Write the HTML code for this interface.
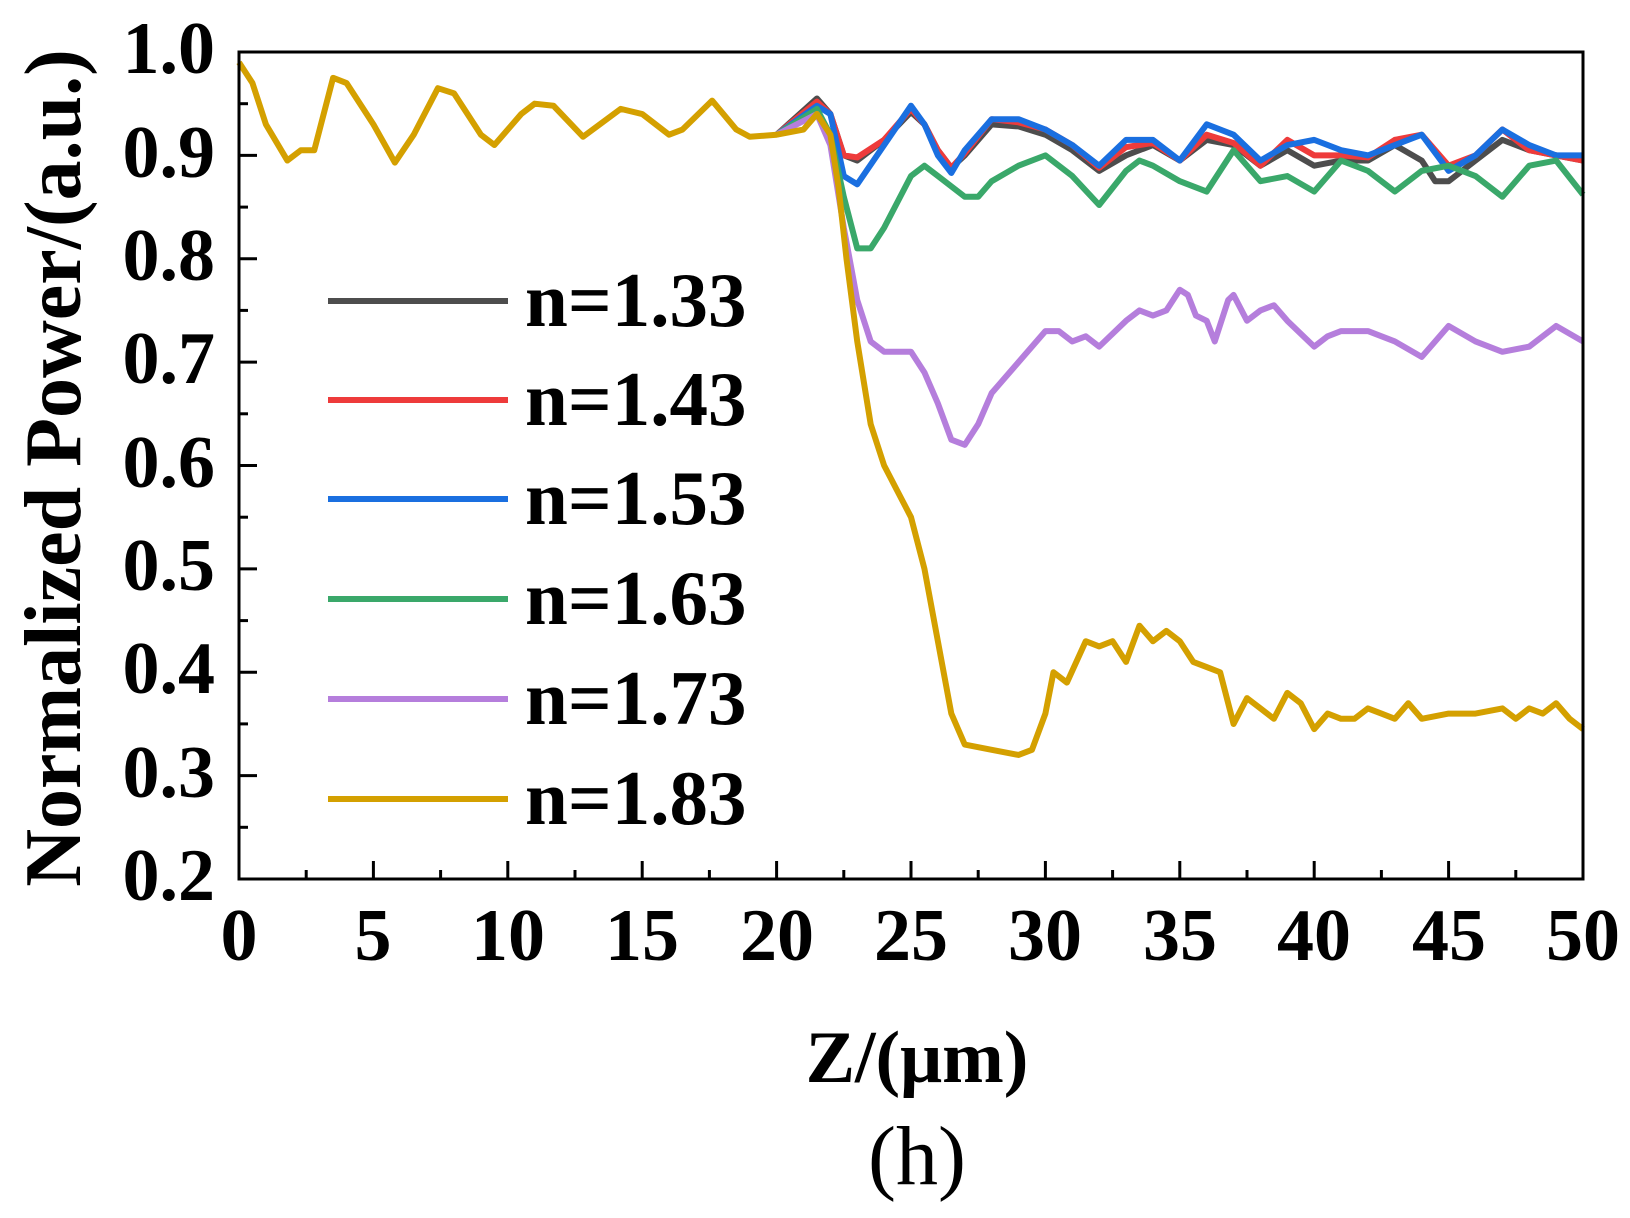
<!DOCTYPE html>
<html><head><meta charset="utf-8"><style>
html,body{margin:0;padding:0;background:#fff}
svg{display:block}
text{font-family:"Liberation Serif",serif;font-weight:bold;fill:#000}
</style></head><body>
<svg width="1630" height="1218" viewBox="0 0 1630 1218" xmlns="http://www.w3.org/2000/svg">
<g transform="translate(239,879) scale(26.88,-1033.75) translate(0,-0.2)" fill="none" stroke-width="6" stroke-linejoin="round">
<polyline vector-effect="non-scaling-stroke" stroke="#4d4d4d" points="20,0.92 21.5,0.955 22,0.94 22.5,0.9 23,0.895 24,0.915 25,0.942 25.5,0.93 26,0.905 26.5,0.888 27,0.9 28,0.93 29,0.928 30,0.92 31,0.905 32,0.885 33,0.9 34,0.91 35,0.895 36,0.915 37,0.91 38,0.89 39,0.905 40,0.89 41,0.895 42,0.895 43,0.91 44,0.895 44.5,0.875 45,0.875 46,0.895 47,0.915 48,0.905 49,0.9 50,0.895"/>
<polyline vector-effect="non-scaling-stroke" stroke="#ee3b3b" points="20,0.92 21.5,0.952 22,0.94 22.5,0.9 23,0.898 24,0.915 25,0.945 25.5,0.93 26,0.905 26.5,0.888 27,0.902 28,0.935 29,0.932 30,0.925 31,0.91 32,0.888 33,0.908 34,0.912 35,0.895 36,0.92 37,0.912 38,0.89 39,0.915 40,0.9 41,0.9 42,0.898 43,0.915 44,0.92 45,0.89 46,0.9 47,0.925 48,0.905 49,0.9 50,0.895"/>
<polyline vector-effect="non-scaling-stroke" stroke="#1a6fe0" points="20,0.92 21.5,0.948 22,0.94 22.5,0.88 23,0.872 24,0.91 25,0.948 25.5,0.93 26,0.9 26.5,0.883 27,0.905 28,0.935 29,0.935 30,0.925 31,0.91 32,0.89 33,0.915 34,0.915 35,0.895 36,0.93 37,0.92 38,0.895 39,0.91 40,0.915 41,0.905 42,0.9 43,0.91 44,0.92 45,0.885 46,0.9 47,0.925 48,0.91 49,0.9 50,0.9"/>
<polyline vector-effect="non-scaling-stroke" stroke="#3aa86a" points="20,0.92 21.5,0.945 22,0.92 22.5,0.86 23,0.81 23.5,0.81 24,0.83 25,0.88 25.5,0.89 26,0.88 27,0.86 27.5,0.86 28,0.875 29,0.89 30,0.9 31,0.88 32,0.852 33,0.885 33.5,0.895 34,0.89 35,0.875 36,0.865 37,0.905 38,0.875 39,0.88 40,0.865 41,0.895 42,0.885 43,0.865 44,0.885 45,0.89 46,0.88 47,0.86 48,0.89 49,0.895 50,0.862"/>
<polyline vector-effect="non-scaling-stroke" stroke="#b57edc" points="20,0.92 21.5,0.94 22,0.91 22.5,0.83 23,0.76 23.5,0.72 24,0.71 25,0.71 25.5,0.69 26,0.66 26.5,0.625 27,0.62 27.5,0.64 28,0.67 29,0.7 30,0.73 30.5,0.73 31,0.72 31.5,0.725 32,0.715 33,0.74 33.5,0.75 34,0.745 34.5,0.75 35,0.77 35.3,0.765 35.6,0.745 36,0.74 36.3,0.72 36.8,0.76 37,0.765 37.5,0.74 38,0.75 38.5,0.755 39,0.74 40,0.715 40.5,0.725 41,0.73 42,0.73 43,0.72 44,0.705 45,0.735 46,0.72 47,0.71 48,0.715 49,0.735 50,0.72"/>
<polyline vector-effect="non-scaling-stroke" stroke="#d4a000" points="0,0.99 0.5,0.97 1,0.93 1.8,0.895 2.3,0.905 2.8,0.905 3.5,0.975 4,0.97 5,0.93 5.8,0.893 6.5,0.92 7.4,0.965 8,0.96 9,0.92 9.5,0.91 10.5,0.94 11,0.95 11.7,0.948 12.8,0.918 14.2,0.945 15,0.94 16,0.92 16.5,0.925 17.6,0.953 18.5,0.925 19,0.918 20,0.92 21,0.925 21.5,0.94 22,0.92 22.3,0.87 22.6,0.8 23,0.72 23.5,0.64 24,0.6 24.5,0.575 25,0.55 25.5,0.5 26,0.43 26.5,0.36 27,0.33 28,0.325 29,0.32 29.5,0.325 30,0.36 30.3,0.4 30.8,0.39 31.5,0.43 32,0.425 32.5,0.43 33,0.41 33.5,0.445 34,0.43 34.5,0.44 35,0.43 35.5,0.41 36,0.405 36.5,0.4 37,0.35 37.5,0.375 38,0.365 38.5,0.355 39,0.38 39.5,0.37 40,0.345 40.5,0.36 41,0.355 41.5,0.355 42,0.365 42.5,0.36 43,0.355 43.5,0.37 44,0.355 45,0.36 46,0.36 47,0.365 47.5,0.355 48,0.365 48.5,0.36 49,0.37 49.5,0.355 50,0.345"/>
</g>
<rect x="239" y="52" width="1344" height="827" fill="none" stroke="#000" stroke-width="3"/>
<g stroke="#000" stroke-width="3">
<line x1="239" y1="155.4" x2="257" y2="155.4"/><line x1="239" y1="258.8" x2="257" y2="258.8"/><line x1="239" y1="362.1" x2="257" y2="362.1"/><line x1="239" y1="465.5" x2="257" y2="465.5"/><line x1="239" y1="568.9" x2="257" y2="568.9"/><line x1="239" y1="672.3" x2="257" y2="672.3"/><line x1="239" y1="775.6" x2="257" y2="775.6"/>
<line x1="239" y1="103.7" x2="248" y2="103.7"/><line x1="239" y1="207.1" x2="248" y2="207.1"/><line x1="239" y1="310.4" x2="248" y2="310.4"/><line x1="239" y1="413.8" x2="248" y2="413.8"/><line x1="239" y1="517.2" x2="248" y2="517.2"/><line x1="239" y1="620.6" x2="248" y2="620.6"/><line x1="239" y1="723.9" x2="248" y2="723.9"/><line x1="239" y1="827.3" x2="248" y2="827.3"/>
<line x1="373.4" y1="879" x2="373.4" y2="861"/><line x1="507.8" y1="879" x2="507.8" y2="861"/><line x1="642.2" y1="879" x2="642.2" y2="861"/><line x1="776.6" y1="879" x2="776.6" y2="861"/><line x1="911" y1="879" x2="911" y2="861"/><line x1="1045.4" y1="879" x2="1045.4" y2="861"/><line x1="1179.8" y1="879" x2="1179.8" y2="861"/><line x1="1314.2" y1="879" x2="1314.2" y2="861"/><line x1="1448.6" y1="879" x2="1448.6" y2="861"/>
<line x1="306.2" y1="879" x2="306.2" y2="870"/><line x1="440.6" y1="879" x2="440.6" y2="870"/><line x1="575" y1="879" x2="575" y2="870"/><line x1="709.4" y1="879" x2="709.4" y2="870"/><line x1="843.8" y1="879" x2="843.8" y2="870"/><line x1="978.2" y1="879" x2="978.2" y2="870"/><line x1="1112.6" y1="879" x2="1112.6" y2="870"/><line x1="1247" y1="879" x2="1247" y2="870"/><line x1="1381.4" y1="879" x2="1381.4" y2="870"/><line x1="1515.8" y1="879" x2="1515.8" y2="870"/>
</g>
<g font-size="74" text-anchor="end">
<text x="215" y="73">1.0</text><text x="215" y="177">0.9</text><text x="215" y="280">0.8</text><text x="215" y="383">0.7</text><text x="215" y="487">0.6</text><text x="215" y="590">0.5</text><text x="215" y="693">0.4</text><text x="215" y="797">0.3</text><text x="215" y="900">0.2</text>
</g>
<g font-size="74" text-anchor="middle">
<text x="239" y="960">0</text><text x="373" y="960">5</text><text x="508" y="960">10</text><text x="642" y="960">15</text><text x="777" y="960">20</text><text x="911" y="960">25</text><text x="1045" y="960">30</text><text x="1180" y="960">35</text><text x="1314" y="960">40</text><text x="1449" y="960">45</text><text x="1583" y="960">50</text>
</g>
<text x="917" y="1082" font-size="74" text-anchor="middle">Z/(μm)</text>
<text x="917" y="1184" font-size="84" text-anchor="middle" style="font-weight:normal">(h)</text>
<text transform="translate(80,468) rotate(-90)" font-size="80" text-anchor="middle">Normalized Power/(a.u.)</text>
<g stroke-width="6">
<line x1="328" y1="301" x2="508" y2="301" stroke="#4d4d4d"/>
<line x1="328" y1="400" x2="508" y2="400" stroke="#ee3b3b"/>
<line x1="328" y1="499" x2="508" y2="499" stroke="#1a6fe0"/>
<line x1="328" y1="599" x2="508" y2="599" stroke="#3aa86a"/>
<line x1="328" y1="699" x2="508" y2="699" stroke="#b57edc"/>
<line x1="328" y1="799" x2="508" y2="799" stroke="#d4a000"/>
</g>
<g font-size="77">
<text x="525" y="326">n=1.33</text><text x="525" y="425">n=1.43</text><text x="525" y="524">n=1.53</text><text x="525" y="624">n=1.63</text><text x="525" y="724">n=1.73</text><text x="525" y="824">n=1.83</text>
</g>
</svg>
</body></html>
